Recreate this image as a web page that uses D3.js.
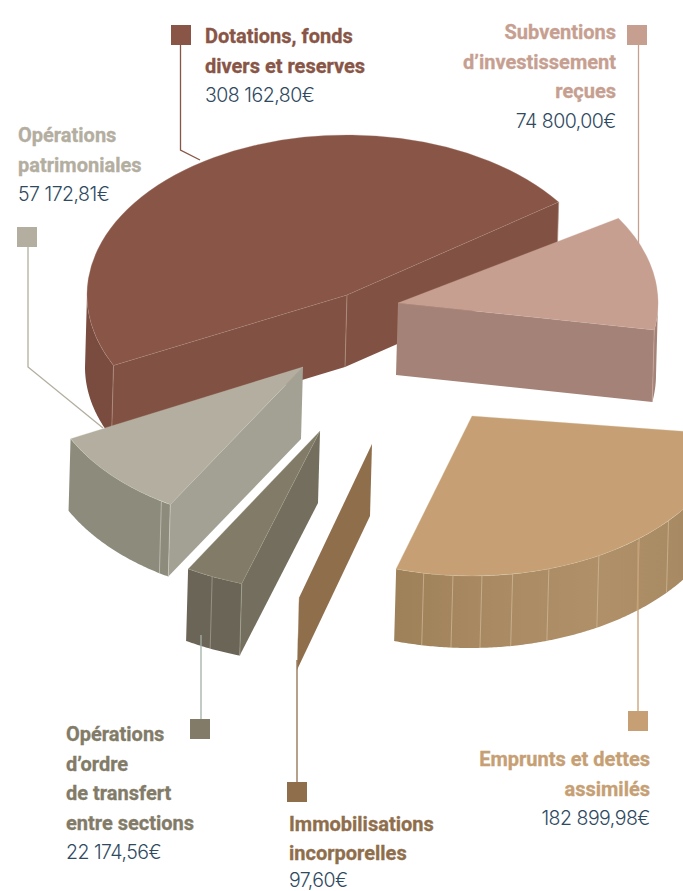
<!DOCTYPE html>
<html lang="fr">
<head>
<meta charset="utf-8">
<script src="https://cdn.jsdelivr.net/npm/d3@7"></script>
<style>
html,body{margin:0;padding:0;background:#fff;overflow:hidden}
svg{display:block}
.t{font-family:Roboto,sans-serif;font-weight:700;font-size:20px;stroke-width:.3px}
.v{font-family:Inter,sans-serif;font-weight:300;font-size:19.5px;fill:#2f4a5f;letter-spacing:-.5px}
</style>
</head>
<body>
<script>
// ---------- data ----------
const categories = ["Subventions d’investissement reçues","Emprunts et dettes assimilés","Immobilisations incorporelles","Opérations d’ordre de transfert entre sections","Opérations patrimoniales","Dotations, fonds divers et reserves"];
const values = [74800.00,182899.98,97.60,22174.56,57172.81,308162.80];
const valueLabels = ["74 800,00€","182 899,98€","97,60€","22 174,56€","57 172,81€","308 162,80€"];
const labelLines = [
  ["Subventions","d’investissement","reçues"],
  ["Emprunts et dettes","assimilés"],
  ["Immobilisations","incorporelles"],
  ["Opérations","d’ordre","de transfert","entre sections"],
  ["Opérations","patrimoniales"],
  ["Dotations, fonds","divers et reserves"]
];
// ---------- styles ----------
const topColors  = ["#c79f91","#c6a074","#8f6e4c","#827b68","#b3ae9f","#885546"];
const wallColors = ["#a48277","#ae8f67","#8f6e4c","#736e5d","#a3a193","#815243"];
const rimColors  = ["#a48277","#a98a62","#8f6e4c","#6b6557","#8d8b7c","#7a4c3f"];
const seamColors = ["#c9a99d","#d3bd9e","#8f6e4c","#a8a595","#cfccc0","#b08f83"];
// ---------- layout ----------
const W = 683, H = 891, rx = 260, ry = 160, depth = [-2, 72];
const apex = [[398,303],[472,416],[372,444],[320,431],[303,367],[347,295]];
const startNudge = [3,0,-2.5,-1.3,-.5,.8];
const endNudge = [3,-1.8,-2.5,-.7,.3,-.5];
const seamAngles = [[],[100.7,94.2,87.8,81,72.8,60.8,50,40.9],[],[114.5],[123],[]];
const square = [[627,25],[628,711],[287,782],[190,719],[17,227],[171,25]];
const leaders = [
  [[638.5,45],[638.5,260]],
  [[638,542],[638,711]],
  [[297,660],[297,782]],
  [[201,635],[201,730]],
  [[28,247],[28,367],[103,428]],
  [[180.5,45],[180.5,150],[200,160]]
];
const leaderColors = ["#c79f91","#c6a074","#8f6e4c","#a3b0a5","#b3ae9f","#885546"];
const leaderOnTop = [false,true,true,true,false,false];
const textAt = [[616,39,"end"],[650,766,"end"],[289,831,"start"],[66,741,"start"],[18,142,"start"],[205,43,"start"]];
const lineSteps = [29.5,29.5,29,29.5,29.5,29.5];
const rad = d => d * Math.PI / 180;

const svg = d3.select("body").append("svg").attr("width",W).attr("height",H);
const defs = svg.append("defs");
const scaleX = d3.scaleLinear().domain([-1,1]).range([-rx,rx]);
const scaleY = d3.scaleLinear().domain([-1,1]).range([-ry,ry]);
const line = d3.line();
const pie = d3.pie().sort(null).value(d=>d).startAngle(rad(55)).endAngle(rad(415));
// screen angle, clockwise from +x
const arcs = pie(values).map((p,i)=>({i,a0:p.startAngle/Math.PI*180-90+startNudge[i],a1:p.endAngle/Math.PI*180-90+endNudge[i]}));
const pt = (i,deg,down=0)=>[apex[i][0]+scaleX(Math.cos(rad(deg)))+down*depth[0], apex[i][1]+scaleY(Math.sin(rad(deg)))+down*depth[1]];
const ape = (i,down=0)=>[apex[i][0]+down*depth[0],apex[i][1]+down*depth[1]];

const rimGrad = defs.append("linearGradient").attr("id","rim1").attr("gradientUnits","userSpaceOnUse").attr("x1",395).attr("x2",683).attr("y1",0).attr("y2",0);
[[0,"#9e8158"],[.35,"#aa8a63"],[.72,"#b09068"],[1,"#a78a63"]].forEach(s=>rimGrad.append("stop").attr("offset",s[0]).attr("stop-color",s[1]));

function seam(g,a,b,c,w=.7){ g.append("path").attr("d",line([a,b])).attr("fill","none").attr("stroke",c).attr("stroke-width",w); }

function drawLeader(i){
  svg.append("path").attr("d",line(leaders[i])).attr("fill","none").attr("stroke",leaderColors[i]).attr("stroke-width",1.3);
}
leaders.forEach((_,i)=>{ if(!leaderOnTop[i]) drawLeader(i); });

const drawOrder = [5,0,4,3,2,1];
drawOrder.forEach(i=>{
  const s = arcs[i], g = svg.append("g");
  // rim wall: the part of the outer surface that faces the viewer
  const n0 = Math.max(s.a0,0), n1 = Math.min(s.a1,180);
  if(n1>n0){
    const top = d3.range(n0,n1,.5).concat(n1).map(a=>pt(i,a));
    const bot = d3.range(n0,n1,.5).concat(n1).reverse().map(a=>pt(i,a,1));
    g.append("path").attr("d",line(top.concat(bot))+"Z").attr("fill",i===1?"url(#rim1)":rimColors[i]);
  }
  // radial walls
  const startVis = Math.cos(rad(s.a0))<0, endVis = Math.cos(rad(s.a1))>0;
  const wall = (deg)=>g.append("path").attr("d",line([ape(i),pt(i,deg),pt(i,deg,1),ape(i,1)])+"Z").attr("fill",wallColors[i]);
  if(startVis) wall(s.a0);
  if(endVis) wall(s.a1);
  // seams on the wall
  seamAngles[i].forEach(a=>seam(g,pt(i,a),pt(i,a,1),seamColors[i]));
  if(startVis && i!==2) seam(g,pt(i,s.a0),pt(i,s.a0,1),seamColors[i]);
  if(endVis && i!==2) seam(g,pt(i,s.a1),pt(i,s.a1,1),seamColors[i]);
  if(startVis && endVis) seam(g,ape(i),ape(i,1),seamColors[i]);
  // top face
  if(i!==2){
    g.append("path")
      .attr("d",d3.arc()({innerRadius:0,outerRadius:1,startAngle:rad(s.a0+90),endAngle:rad(s.a1+90)}))
      .attr("transform",`translate(${apex[i]}) scale(${rx},${ry})`)
      .attr("fill",topColors[i])
      .attr("stroke",seamColors[i]).attr("stroke-width",.3).attr("vector-effect","non-scaling-stroke");
  }
});

leaders.forEach((_,i)=>{ if(leaderOnTop[i]) drawLeader(i); });

svg.append("g").selectAll("rect").data(square).join("rect")
  .attr("x",d=>d[0]).attr("y",d=>d[1]).attr("width",20).attr("height",20)
  .attr("fill",(d,i)=>topColors[i]);

categories.forEach((c,i)=>{
  const [x,y,anchor] = textAt[i];
  const g = svg.append("g").attr("text-anchor",anchor);
  labelLines[i].forEach((l,k)=>g.append("text").attr("class","t").attr("x",x).attr("y",y+k*lineSteps[i]).attr("fill",topColors[i]).attr("stroke",topColors[i]).text(l));
  g.append("text").attr("class","v").attr("x",x).attr("y",y+labelLines[i].length*lineSteps[i]-(i===2?2:0)).text(valueLabels[i]);
});
</script>
</body>
</html>
